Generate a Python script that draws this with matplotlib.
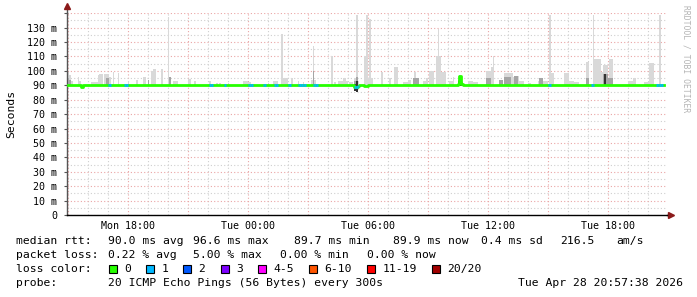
import matplotlib
matplotlib.use('Agg')
import matplotlib.pyplot as plt
import matplotlib.dates as mdates
from matplotlib.ticker import MultipleLocator, FuncFormatter
from matplotlib.patches import Rectangle
from datetime import datetime, timedelta

W, H = 697, 297
MONO = 'DejaVu Sans Mono'

# time window (last 30 hours), 5 minute samples
start = datetime(2026, 4, 27, 14, 57, 38)
end = datetime(2026, 4, 28, 20, 57, 38)
first_sample = datetime(2026, 4, 27, 15, 0)
n_samples = 358
step_min = 5

# median rtt is ~90 ms almost everywhere, exceptions below
median_base = 90.0
median_idx = [8, 172, 173, 174, 178, 179, 234, 235, 236]
median_val = [88.8, 89.0, 88.8, 89.2, 89.2, 89.4, 91.0, 96.6, 91.2]

# smoke: max ping per sample (light grey) and core band (darker grey)
smoke_idx = [0, 1, 2, 6, 7, 14, 15, 16, 17, 18, 19, 20, 22, 23, 24, 25, 27, 30, 36, 41,
             45, 46, 48, 50, 51, 52, 56, 60, 61, 63, 64, 65, 72, 73, 76, 85, 89, 91, 96,
             105, 106, 107, 108, 109, 120, 123, 124, 125, 128, 129, 130, 131, 134, 138,
             141, 146, 147, 148, 158, 160, 162, 163, 164, 165, 166, 167, 169, 170,
             172, 173, 174, 178, 179, 180, 181, 182, 188, 193, 196, 197, 201, 202, 203,
             204, 205, 207, 208, 209, 210, 213, 214, 215, 217, 218, 219, 221, 222, 223,
             224, 225, 226, 229, 230, 231, 234, 235, 236, 240, 241, 242, 243, 244, 245,
             251, 252, 253, 254, 255, 259, 260, 262, 263, 264, 265, 266, 267, 268, 269,
             270, 271, 272, 273, 276, 277, 282, 283, 284, 285, 286, 287, 289, 290, 291,
             298, 299, 300, 301, 302, 303, 304, 305, 306, 311, 312, 315, 316, 317, 318,
             319, 320, 321, 322, 323, 324, 325, 326, 336, 337, 338, 339, 340, 346, 347,
             348, 349, 350, 351, 355]
smoke_top = [99, 97, 93, 96, 93, 92, 92, 92, 92, 97, 98, 98, 97.5, 97.5, 97.5, 96, 99, 98.5, 93, 94,
             95.5, 95.5, 94, 99.7, 101.5, 101.5, 101.5, 137.3, 95.6, 93, 93, 93, 94.6, 94.6, 93, 93, 91.8, 91.8, 91.8,
             92.8, 92.8, 92.8, 92, 92, 91.8, 93, 93, 93, 125.3, 95, 95, 95, 95, 93,
             92, 93.5, 117, 93.5, 110, 92, 93, 93, 93, 95, 95, 93, 92.5, 92.5,
             95, 138.5, 93, 110, 138.5, 95, 136.2, 95, 99.5, 95, 103, 103, 92, 92, 92,
             93.5, 93.5, 95, 99.5, 95, 95, 93, 93, 95, 99.7, 99.7, 99.7, 110, 129.2, 110,
             99.5, 99.5, 99.5, 93, 93, 95.5, 94, 97, 92, 93, 93, 93, 92, 92, 92,
             99.7, 99.7, 99.7, 103, 110, 94, 94, 98.5, 98.5, 98.5, 98.5, 98.5, 95.5, 96.2, 96.2,
             96.2, 93, 93, 93, 91.8, 91.8, 93, 95, 95, 93, 93, 93, 138.5, 98.6, 98.6,
             98.6, 98.6, 98.6, 93, 93, 93, 92, 92, 92, 106.2, 106.2, 138.5, 108.5, 108.5, 108.5,
             108.5, 99, 103.8, 103.8, 103.8, 95, 108.5, 108.5, 93, 93, 93, 95, 95, 92, 92,
             92, 105.5, 105.5, 105.5, 138.5]
core_idx = [0, 1, 23, 24, 48, 61, 147, 172, 173, 207, 208, 209, 210, 234, 235, 236,
            251, 252, 253, 259, 260, 262, 263, 264, 265, 268, 269, 283, 284, 311, 312,
            321, 322, 323, 324, 325, 326]
core_top = [95, 94, 95, 95, 94, 95.6, 100, 93, 96, 95, 95, 95, 95, 94, 96.6, 92,
            95, 95, 95, 94, 94, 96, 96, 96, 96, 96.2, 96.2, 95, 95, 95, 95,
            98, 98, 98, 95, 95, 95]
dark_idx = [172, 173, 234, 235, 236, 322]
dark_top = [91, 93, 93, 96.6, 91.5, 97.5]
smoke_low_base = 89.6
low_idx = [172, 173, 174]
low_val = [86.0, 85.4, 87.0]

# packet loss per sample (pings lost out of 20)
loss_idx = [24, 25, 34, 35, 85, 86, 94, 108, 109, 110, 117, 118, 124, 125, 132, 133,
            138, 139, 140, 141, 142, 147, 148, 149, 172, 173, 174, 288, 289, 314, 315,
            353, 354, 355, 356]
loss_cnt = [1] * len(loss_idx)

loss_labels = ['0', '1', '2', '3', '4-5', '6-10', '11-19', '20/20']
loss_colors = ['#26ff00', '#00b8ff', '#0059ff', '#7e00ff', '#ff00ff', '#ff5500', '#ff0000', '#a10000']

# ---- build per-sample series
t = [mdates.date2num(first_sample + timedelta(minutes=step_min * i)) for i in range(n_samples)]
dt = step_min / 1440.0
median = [median_base] * n_samples
for i, v in zip(median_idx, median_val):
    median[i] = v
low = {i: v for i, v in zip(low_idx, low_val)}

fig = plt.figure(figsize=(W / 100, H / 100), dpi=100)
ax = fig.add_axes([67 / W, (H - 215) / H, 600 / W, (215 - 12.5) / H])
ax.set_xlim(mdates.date2num(start), mdates.date2num(end))
ax.set_ylim(0, 140.5)

# smoke
sx = [t[i] for i in smoke_idx]
sb = [low.get(i, smoke_low_base) for i in smoke_idx]
ax.bar(sx, [top - b for top, b in zip(smoke_top, sb)], bottom=sb, width=dt, align='edge',
       color='#d9d9d9', linewidth=0, zorder=2)
cx = [t[i] for i in core_idx]
cb = [low.get(i, smoke_low_base) for i in core_idx]
ax.bar(cx, [top - b for top, b in zip(core_top, cb)], bottom=cb, width=dt, align='edge',
       color='#a5a5a5', linewidth=0, zorder=3)
dx = [t[i] for i in dark_idx]
db = [low.get(i, smoke_low_base) for i in dark_idx]
ax.bar(dx, [top - b for top, b in zip(dark_top, db)], bottom=db, width=dt, align='edge',
       color='#333333', linewidth=0, zorder=4)

# median line, coloured by loss
ax.step(t + [t[-1] + dt], median + [median[-1]], where='post', color=loss_colors[0],
        lw=2.0, zorder=5)
for i, c in zip(loss_idx, loss_cnt):
    ax.plot([t[i], t[i] + dt], [median[i], median[i]], color=loss_colors[c], lw=2.0,
            solid_capstyle='butt', zorder=6)

# grid
ax.xaxis.set_major_locator(mdates.HourLocator(byhour=range(0, 24, 3)))
ax.xaxis.set_minor_locator(mdates.HourLocator())
ax.xaxis.set_major_formatter(FuncFormatter(
    lambda v, p: mdates.num2date(v).strftime('%a %H:%M') if mdates.num2date(v).hour % 6 == 0 else ''))
ax.yaxis.set_major_locator(MultipleLocator(10))
ax.yaxis.set_minor_locator(MultipleLocator(5))
ax.yaxis.set_major_formatter(FuncFormatter(
    lambda v, p: '0' if v == 0 else ('' if v > 135 else '%d m' % v)))
ax.grid(which='minor', color='#cfcfcf', linestyle=(0, (1, 2)), lw=0.8, zorder=1)
ax.grid(which='major', color='#eaa5a5', linestyle=(0, (1, 2)), lw=0.8, zorder=1)
ax.set_axisbelow(True)

for s in ['top', 'right']:
    ax.spines[s].set_visible(False)
ax.spines['left'].set_color('#555555')
ax.spines['bottom'].set_color('#000000')
ax.spines['left'].set_linewidth(1.0)
ax.spines['bottom'].set_linewidth(1.0)
ax.tick_params(axis='x', which='both', length=0, pad=4, labelsize=7.2)
ax.tick_params(axis='y', which='major', length=2, direction='out', color='#555555', pad=5, labelsize=7.2)
ax.tick_params(axis='y', which='minor', length=0)
for lab in ax.get_xticklabels() + ax.get_yticklabels():
    lab.set_family(MONO)

# axis arrows
ax.plot([0, 0], [1, 1.02], transform=ax.transAxes, color='#555555', lw=1, clip_on=False)
ax.plot([0], [1.03], marker='^', ms=4, color='#8b1a1a', transform=ax.transAxes, clip_on=False)
ax.plot([1, 1.003], [0, 0], transform=ax.transAxes, color='#000000', lw=1, clip_on=False)
ax.plot([1.006], [0], marker='>', ms=4, color='#8b1a1a', transform=ax.transAxes, clip_on=False)

fs = 8.2
def ftext(x, y, s, **kw):
    fig.text(x / W, 1 - y / H, s, family=MONO, size=kw.pop('size', fs), va='center', **kw)

ftext(11, 114, 'Seconds', rotation=90, ha='center')
ftext(686, 59, 'RRDTOOL / TOBI OETIKER', rotation=-90, ha='center', size=5.8, color='#b4b4b4')

ftext(16, 241, 'median rtt:')
for x, s in [(107.6, '90.0 ms avg'), (193, '96.6 ms max'), (294, '89.7 ms min'),
             (393, '89.9 ms now'), (481, '0.4 ms sd'), (560, '216.5'), (616, 'am/s')]:
    ftext(x, 241, s)
ftext(16, 255, 'packet loss:')
for x, s in [(107.6, '0.22 % avg'), (193, '5.00 % max'), (280, '0.00 % min'), (366.5, '0.00 % now')]:
    ftext(x, 255, s)
ftext(16, 269, 'loss color:')
box_x = [108.5, 146, 183, 220.5, 257.6, 309, 367, 432]
for bx, lab, col in zip(box_x, loss_labels, loss_colors):
    fig.patches.append(Rectangle((bx / W, 1 - 273 / H), 8 / W, 8 / H, transform=fig.transFigure,
                                 facecolor=col, edgecolor='black', lw=0.8))
    ftext(bx + 15.5, 269, lab)
ftext(16, 283, 'probe:')
ftext(107.6, 283, '20 ICMP Echo Pings (56 Bytes) every 300s')
ftext(683, 283, 'Tue Apr 28 20:57:38 2026', ha='right')

fig.savefig('out.png', dpi=100)
